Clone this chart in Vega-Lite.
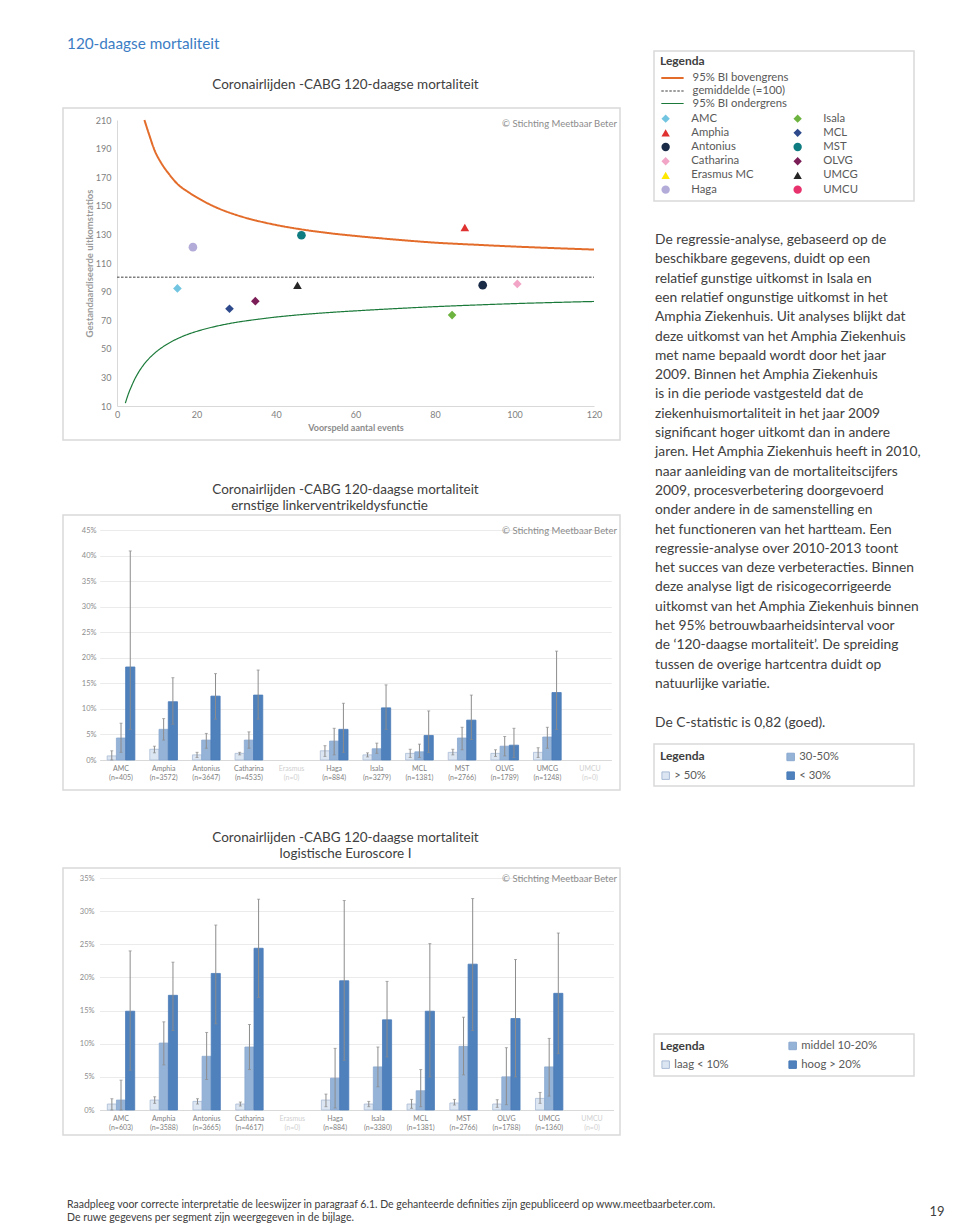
{
  "$schema": "https://vega.github.io/schema/vega-lite/v6.json",
  "width": 960,
  "height": 1226,
  "autosize": {"type": "none"},
  "padding": 0,
  "background": "#ffffff",
  "config": {
    "view": {"stroke": null},
    "font": "Lato",
    "axis": {"labelFont": "Lato", "titleFont": "Lato"},
    "legend": {"labelFont": "Lato", "titleFont": "Lato"}
  },
  "datasets": {
    "funnel_lijnen": [
      {"lijn": "95% BI bovengrens", "verwacht": 6.9, "ratio": 210},
      {"lijn": "95% BI bovengrens", "verwacht": 8, "ratio": 200.5},
      {"lijn": "95% BI bovengrens", "verwacht": 9.5, "ratio": 188.5},
      {"lijn": "95% BI bovengrens", "verwacht": 11, "ratio": 180.5},
      {"lijn": "95% BI bovengrens", "verwacht": 13, "ratio": 172.5},
      {"lijn": "95% BI bovengrens", "verwacht": 15.3, "ratio": 165},
      {"lijn": "95% BI bovengrens", "verwacht": 18, "ratio": 159.5},
      {"lijn": "95% BI bovengrens", "verwacht": 20.3, "ratio": 155.5},
      {"lijn": "95% BI bovengrens", "verwacht": 25, "ratio": 148.8},
      {"lijn": "95% BI bovengrens", "verwacht": 30, "ratio": 143.6},
      {"lijn": "95% BI bovengrens", "verwacht": 35, "ratio": 139.7},
      {"lijn": "95% BI bovengrens", "verwacht": 40, "ratio": 136.6},
      {"lijn": "95% BI bovengrens", "verwacht": 46.4, "ratio": 133.5},
      {"lijn": "95% BI bovengrens", "verwacht": 53, "ratio": 131},
      {"lijn": "95% BI bovengrens", "verwacht": 60.4, "ratio": 128.8},
      {"lijn": "95% BI bovengrens", "verwacht": 70, "ratio": 126.4},
      {"lijn": "95% BI bovengrens", "verwacht": 80.2, "ratio": 124.2},
      {"lijn": "95% BI bovengrens", "verwacht": 90, "ratio": 122.8},
      {"lijn": "95% BI bovengrens", "verwacht": 100, "ratio": 121.5},
      {"lijn": "95% BI bovengrens", "verwacht": 110, "ratio": 120.4},
      {"lijn": "95% BI bovengrens", "verwacht": 120, "ratio": 119.4},
      {"lijn": "gemiddelde (=100)", "verwacht": 0, "ratio": 100},
      {"lijn": "gemiddelde (=100)", "verwacht": 120, "ratio": 100},
      {"lijn": "95% BI ondergrens", "verwacht": 2.1, "ratio": 12},
      {"lijn": "95% BI ondergrens", "verwacht": 3, "ratio": 19.5},
      {"lijn": "95% BI ondergrens", "verwacht": 3.6, "ratio": 23.5},
      {"lijn": "95% BI ondergrens", "verwacht": 4.5, "ratio": 29},
      {"lijn": "95% BI ondergrens", "verwacht": 5.3, "ratio": 33},
      {"lijn": "95% BI ondergrens", "verwacht": 6.3, "ratio": 37.3},
      {"lijn": "95% BI ondergrens", "verwacht": 7.5, "ratio": 41.5},
      {"lijn": "95% BI ondergrens", "verwacht": 9.5, "ratio": 47},
      {"lijn": "95% BI ondergrens", "verwacht": 12, "ratio": 52.2},
      {"lijn": "95% BI ondergrens", "verwacht": 15.3, "ratio": 57.2},
      {"lijn": "95% BI ondergrens", "verwacht": 18, "ratio": 60.3},
      {"lijn": "95% BI ondergrens", "verwacht": 20.3, "ratio": 62.4},
      {"lijn": "95% BI ondergrens", "verwacht": 25, "ratio": 65.8},
      {"lijn": "95% BI ondergrens", "verwacht": 30, "ratio": 68.5},
      {"lijn": "95% BI ondergrens", "verwacht": 35, "ratio": 70.5},
      {"lijn": "95% BI ondergrens", "verwacht": 40, "ratio": 72.2},
      {"lijn": "95% BI ondergrens", "verwacht": 46.4, "ratio": 73.9},
      {"lijn": "95% BI ondergrens", "verwacht": 53, "ratio": 75.3},
      {"lijn": "95% BI ondergrens", "verwacht": 60.4, "ratio": 76.6},
      {"lijn": "95% BI ondergrens", "verwacht": 70, "ratio": 78.1},
      {"lijn": "95% BI ondergrens", "verwacht": 80.2, "ratio": 79.5},
      {"lijn": "95% BI ondergrens", "verwacht": 90, "ratio": 80.6},
      {"lijn": "95% BI ondergrens", "verwacht": 100, "ratio": 81.6},
      {"lijn": "95% BI ondergrens", "verwacht": 110, "ratio": 82.4},
      {"lijn": "95% BI ondergrens", "verwacht": 120, "ratio": 83.1}
    ],
    "funnel_punten": [
      {"ziekenhuis": "AMC", "verwacht": 15.2, "ratio": 92.2},
      {"ziekenhuis": "Haga", "verwacht": 19.1, "ratio": 121.1},
      {"ziekenhuis": "MCL", "verwacht": 28.3, "ratio": 78.0},
      {"ziekenhuis": "OLVG", "verwacht": 34.8, "ratio": 83.3},
      {"ziekenhuis": "UMCG", "verwacht": 45.4, "ratio": 94.5},
      {"ziekenhuis": "MST", "verwacht": 46.4, "ratio": 129.4},
      {"ziekenhuis": "Isala", "verwacht": 84.3, "ratio": 73.6},
      {"ziekenhuis": "Amphia", "verwacht": 87.5, "ratio": 134.8},
      {"ziekenhuis": "Antonius", "verwacht": 92.0, "ratio": 94.5},
      {"ziekenhuis": "Catharina", "verwacht": 100.7, "ratio": 95.4}
    ],
    "lvef": [
      {"ziekenhuis": "AMC (n=405)", "risico": "> 50%", "mort": 0.008, "laag": 0.0, "hoog": 0.018},
      {"ziekenhuis": "AMC (n=405)", "risico": "30-50%", "mort": 0.043, "laag": 0.015, "hoog": 0.072},
      {"ziekenhuis": "AMC (n=405)", "risico": "< 30%", "mort": 0.182, "laag": 0.06, "hoog": 0.409},
      {"ziekenhuis": "Amphia (n=3572)", "risico": "> 50%", "mort": 0.021, "laag": 0.014, "hoog": 0.027},
      {"ziekenhuis": "Amphia (n=3572)", "risico": "30-50%", "mort": 0.060, "laag": 0.039, "hoog": 0.081},
      {"ziekenhuis": "Amphia (n=3572)", "risico": "< 30%", "mort": 0.114, "laag": 0.07, "hoog": 0.161},
      {"ziekenhuis": "Antonius (n=3647)", "risico": "> 50%", "mort": 0.010, "laag": 0.005, "hoog": 0.015},
      {"ziekenhuis": "Antonius (n=3647)", "risico": "30-50%", "mort": 0.039, "laag": 0.023, "hoog": 0.052},
      {"ziekenhuis": "Antonius (n=3647)", "risico": "< 30%", "mort": 0.125, "laag": 0.08, "hoog": 0.169},
      {"ziekenhuis": "Catharina (n=4535)", "risico": "> 50%", "mort": 0.013, "laag": 0.010, "hoog": 0.015},
      {"ziekenhuis": "Catharina (n=4535)", "risico": "30-50%", "mort": 0.039, "laag": 0.023, "hoog": 0.055},
      {"ziekenhuis": "Catharina (n=4535)", "risico": "< 30%", "mort": 0.127, "laag": 0.08, "hoog": 0.176},
      {"ziekenhuis": "Haga (n=884)", "risico": "> 50%", "mort": 0.018, "laag": 0.007, "hoog": 0.028},
      {"ziekenhuis": "Haga (n=884)", "risico": "30-50%", "mort": 0.037, "laag": 0.010, "hoog": 0.062},
      {"ziekenhuis": "Haga (n=884)", "risico": "< 30%", "mort": 0.060, "laag": 0.015, "hoog": 0.111},
      {"ziekenhuis": "Isala (n=3279)", "risico": "> 50%", "mort": 0.010, "laag": 0.006, "hoog": 0.014},
      {"ziekenhuis": "Isala (n=3279)", "risico": "30-50%", "mort": 0.022, "laag": 0.013, "hoog": 0.033},
      {"ziekenhuis": "Isala (n=3279)", "risico": "< 30%", "mort": 0.102, "laag": 0.06, "hoog": 0.147},
      {"ziekenhuis": "MCL (n=1381)", "risico": "> 50%", "mort": 0.013, "laag": 0.005, "hoog": 0.021},
      {"ziekenhuis": "MCL (n=1381)", "risico": "30-50%", "mort": 0.016, "laag": 0.005, "hoog": 0.031},
      {"ziekenhuis": "MCL (n=1381)", "risico": "< 30%", "mort": 0.048, "laag": 0.015, "hoog": 0.096},
      {"ziekenhuis": "MST (n=2766)", "risico": "> 50%", "mort": 0.015, "laag": 0.010, "hoog": 0.021},
      {"ziekenhuis": "MST (n=2766)", "risico": "30-50%", "mort": 0.043, "laag": 0.020, "hoog": 0.064},
      {"ziekenhuis": "MST (n=2766)", "risico": "< 30%", "mort": 0.078, "laag": 0.04, "hoog": 0.127},
      {"ziekenhuis": "OLVG (n=1789)", "risico": "> 50%", "mort": 0.013, "laag": 0.007, "hoog": 0.020},
      {"ziekenhuis": "OLVG (n=1789)", "risico": "30-50%", "mort": 0.027, "laag": 0.008, "hoog": 0.046},
      {"ziekenhuis": "OLVG (n=1789)", "risico": "< 30%", "mort": 0.029, "laag": 0.005, "hoog": 0.062},
      {"ziekenhuis": "UMCG (n=1248)", "risico": "> 50%", "mort": 0.015, "laag": 0.005, "hoog": 0.024},
      {"ziekenhuis": "UMCG (n=1248)", "risico": "30-50%", "mort": 0.045, "laag": 0.023, "hoog": 0.064},
      {"ziekenhuis": "UMCG (n=1248)", "risico": "< 30%", "mort": 0.132, "laag": 0.06, "hoog": 0.213}
    ],
    "euroscore": [
      {"ziekenhuis": "AMC (n=603)", "risico": "laag < 10%", "mort": 0.009, "laag": 0.0, "hoog": 0.017},
      {"ziekenhuis": "AMC (n=603)", "risico": "middel 10-20%", "mort": 0.015, "laag": 0.0, "hoog": 0.045},
      {"ziekenhuis": "AMC (n=603)", "risico": "hoog > 20%", "mort": 0.149, "laag": 0.06, "hoog": 0.240},
      {"ziekenhuis": "Amphia (n=3588)", "risico": "laag < 10%", "mort": 0.015, "laag": 0.010, "hoog": 0.020},
      {"ziekenhuis": "Amphia (n=3588)", "risico": "middel 10-20%", "mort": 0.101, "laag": 0.068, "hoog": 0.133},
      {"ziekenhuis": "Amphia (n=3588)", "risico": "hoog > 20%", "mort": 0.173, "laag": 0.12, "hoog": 0.223},
      {"ziekenhuis": "Antonius (n=3665)", "risico": "laag < 10%", "mort": 0.013, "laag": 0.009, "hoog": 0.017},
      {"ziekenhuis": "Antonius (n=3665)", "risico": "middel 10-20%", "mort": 0.081, "laag": 0.046, "hoog": 0.117},
      {"ziekenhuis": "Antonius (n=3665)", "risico": "hoog > 20%", "mort": 0.206, "laag": 0.13, "hoog": 0.279},
      {"ziekenhuis": "Catharina (n=4617)", "risico": "laag < 10%", "mort": 0.009, "laag": 0.006, "hoog": 0.012},
      {"ziekenhuis": "Catharina (n=4617)", "risico": "middel 10-20%", "mort": 0.095, "laag": 0.061, "hoog": 0.129},
      {"ziekenhuis": "Catharina (n=4617)", "risico": "hoog > 20%", "mort": 0.244, "laag": 0.17, "hoog": 0.318},
      {"ziekenhuis": "Haga (n=884)", "risico": "laag < 10%", "mort": 0.015, "laag": 0.005, "hoog": 0.024},
      {"ziekenhuis": "Haga (n=884)", "risico": "middel 10-20%", "mort": 0.048, "laag": 0.003, "hoog": 0.093},
      {"ziekenhuis": "Haga (n=884)", "risico": "hoog > 20%", "mort": 0.195, "laag": 0.075, "hoog": 0.316},
      {"ziekenhuis": "Isala (n=3380)", "risico": "laag < 10%", "mort": 0.009, "laag": 0.005, "hoog": 0.013},
      {"ziekenhuis": "Isala (n=3380)", "risico": "middel 10-20%", "mort": 0.065, "laag": 0.035, "hoog": 0.095},
      {"ziekenhuis": "Isala (n=3380)", "risico": "hoog > 20%", "mort": 0.136, "laag": 0.08, "hoog": 0.194},
      {"ziekenhuis": "MCL (n=1381)", "risico": "laag < 10%", "mort": 0.009, "laag": 0.0025, "hoog": 0.016},
      {"ziekenhuis": "MCL (n=1381)", "risico": "middel 10-20%", "mort": 0.029, "laag": 0.005, "hoog": 0.061},
      {"ziekenhuis": "MCL (n=1381)", "risico": "hoog > 20%", "mort": 0.149, "laag": 0.05, "hoog": 0.251},
      {"ziekenhuis": "MST (n=2766)", "risico": "laag < 10%", "mort": 0.0105, "laag": 0.0075, "hoog": 0.016},
      {"ziekenhuis": "MST (n=2766)", "risico": "middel 10-20%", "mort": 0.096, "laag": 0.053, "hoog": 0.140},
      {"ziekenhuis": "MST (n=2766)", "risico": "hoog > 20%", "mort": 0.220, "laag": 0.12, "hoog": 0.319},
      {"ziekenhuis": "OLVG (n=1788)", "risico": "laag < 10%", "mort": 0.009, "laag": 0.004, "hoog": 0.0155},
      {"ziekenhuis": "OLVG (n=1788)", "risico": "middel 10-20%", "mort": 0.050, "laag": 0.008, "hoog": 0.094},
      {"ziekenhuis": "OLVG (n=1788)", "risico": "hoog > 20%", "mort": 0.138, "laag": 0.05, "hoog": 0.227},
      {"ziekenhuis": "UMCG (n=1360)", "risico": "laag < 10%", "mort": 0.0175, "laag": 0.010, "hoog": 0.0265},
      {"ziekenhuis": "UMCG (n=1360)", "risico": "middel 10-20%", "mort": 0.065, "laag": 0.021, "hoog": 0.108},
      {"ziekenhuis": "UMCG (n=1360)", "risico": "hoog > 20%", "mort": 0.176, "laag": 0.085, "hoog": 0.267}
    ],
    "toelichting": [
      {"regel": 1, "tekst": "De regressie-analyse, gebaseerd op de"},
      {"regel": 2, "tekst": "beschikbare gegevens, duidt op een"},
      {"regel": 3, "tekst": "relatief gunstige uitkomst in Isala en"},
      {"regel": 4, "tekst": "een relatief ongunstige uitkomst in het"},
      {"regel": 5, "tekst": "Amphia Ziekenhuis. Uit analyses blijkt dat"},
      {"regel": 6, "tekst": "deze uitkomst van het Amphia Ziekenhuis"},
      {"regel": 7, "tekst": "met name bepaald wordt door het jaar"},
      {"regel": 8, "tekst": "2009. Binnen het Amphia Ziekenhuis"},
      {"regel": 9, "tekst": "is in die periode vastgesteld dat de"},
      {"regel": 10, "tekst": "ziekenhuismortaliteit in het jaar 2009"},
      {"regel": 11, "tekst": "significant hoger uitkomt dan in andere"},
      {"regel": 12, "tekst": "jaren. Het Amphia Ziekenhuis heeft in 2010,"},
      {"regel": 13, "tekst": "naar aanleiding van de mortaliteitscijfers"},
      {"regel": 14, "tekst": "2009, procesverbetering doorgevoerd"},
      {"regel": 15, "tekst": "onder andere in de samenstelling en"},
      {"regel": 16, "tekst": "het functioneren van het hartteam. Een"},
      {"regel": 17, "tekst": "regressie-analyse over 2010-2013 toont"},
      {"regel": 18, "tekst": "het succes van deze verbeteracties. Binnen"},
      {"regel": 19, "tekst": "deze analyse ligt de risicogecorrigeerde"},
      {"regel": 20, "tekst": "uitkomst van het Amphia Ziekenhuis binnen"},
      {"regel": 21, "tekst": "het 95% betrouwbaarheidsinterval voor"},
      {"regel": 22, "tekst": "de ‘120-daagse mortaliteit’. De spreiding"},
      {"regel": 23, "tekst": "tussen de overige hartcentra duidt op"},
      {"regel": 24, "tekst": "natuurlijke variatie."},
      {"regel": 26, "tekst": "De C-statistic is 0,82 (goed)."}
    ],
    "voettekst": [
      {"regel": 1, "tekst": "Raadpleeg voor correcte interpretatie de leeswijzer in paragraaf 6.1. De gehanteerde definities zijn gepubliceerd op www.meetbaarbeter.com."},
      {"regel": 2, "tekst": "De ruwe gegevens per segment zijn weergegeven in de bijlage."}
    ]
  },
  "resolve": {
    "scale": {"x": "independent", "y": "independent", "fill": "independent", "stroke": "independent", "shape": "independent", "strokeDash": "independent", "strokeWidth": "independent", "xOffset": "independent"},
    "axis": {"x": "independent", "y": "independent"},
    "legend": {"fill": "independent", "stroke": "independent", "shape": "independent", "strokeDash": "independent", "strokeWidth": "independent"}
  },
  "layer": [
    {
      "data": {"values": [{"blok": "pagina"}]},
      "layer": [
        {
          "mark": {"type": "text", "align": "left", "baseline": "middle", "fontSize": 15.3, "color": "#3b7dc4"},
          "encoding": {
            "x": {"datum": 0.0698, "type": "quantitative", "scale": {"domain": [0, 1], "range": [0, 960], "nice": false, "zero": false}, "axis": null},
            "y": {"datum": 0.0359, "type": "quantitative", "scale": {"domain": [0, 1], "range": [0, 1226], "nice": false, "zero": false}, "axis": null},
            "text": {"value": "120-daagse mortaliteit"}
          }
        },
        {
          "mark": {"type": "text", "align": "center", "baseline": "middle", "fontSize": 13, "color": "#404040"},
          "encoding": {
            "x": {"datum": 0.976, "type": "quantitative", "axis": null},
            "y": {"datum": 0.9886, "type": "quantitative", "axis": null},
            "text": {"value": "19"}
          }
        }
      ]
    },
    {
      "data": {"name": "voettekst"},
      "mark": {"type": "text", "align": "left", "baseline": "middle", "fontSize": 10.5, "color": "#404040"},
      "encoding": {
        "x": {"datum": 0, "type": "quantitative", "scale": {"domain": [0, 1], "range": [67, 960], "nice": false, "zero": false}, "axis": null},
        "y": {"field": "regel", "type": "quantitative", "scale": {"domain": [1, 2], "range": [1205, 1218], "nice": false, "zero": false}, "axis": null},
        "text": {"field": "tekst"}
      }
    },
    {
      "data": {"name": "toelichting"},
      "mark": {"type": "text", "align": "left", "baseline": "middle", "fontSize": 13.8, "color": "#404040"},
      "encoding": {
        "x": {"datum": 0, "type": "quantitative", "scale": {"domain": [0, 1], "range": [655, 915], "nice": false, "zero": false}, "axis": null},
        "y": {"field": "regel", "type": "quantitative", "scale": {"domain": [1, 26], "range": [240, 722.5], "nice": false, "zero": false}, "axis": null},
        "text": {"field": "tekst"}
      }
    },
    {
      "data": {"values": [{"kader": "legenda 1"}]},
      "mark": {"type": "rect", "fill": "transparent", "stroke": "#d9d9d9", "strokeWidth": 1.5},
      "encoding": {
        "x": {"datum": 0, "type": "quantitative", "scale": {"domain": [0, 1], "range": [654, 914], "nice": false, "zero": false}, "axis": null},
        "x2": {"datum": 1},
        "y": {"datum": 0, "type": "quantitative", "scale": {"domain": [0, 1], "range": [51, 201], "nice": false, "zero": false}, "axis": null},
        "y2": {"datum": 1}
      }
    },
    {
      "data": {"values": [{"kader": "legenda 2"}]},
      "layer": [
        {
          "mark": {"type": "rect", "fill": "transparent", "stroke": "#d9d9d9", "strokeWidth": 1.5},
          "encoding": {
            "x": {"datum": 0, "type": "quantitative", "scale": {"domain": [0, 1], "range": [654, 914], "nice": false, "zero": false}, "axis": null},
            "x2": {"datum": 1},
            "y": {"datum": 0, "type": "quantitative", "scale": {"domain": [0, 1], "range": [744, 786], "nice": false, "zero": false}, "axis": null},
            "y2": {"datum": 1}
          }
        },
        {
          "mark": {"type": "text", "align": "left", "baseline": "middle", "fontSize": 12, "fontWeight": "bold", "color": "#404040"},
          "encoding": {
            "x": {"datum": 0.023, "type": "quantitative", "axis": null},
            "y": {"datum": 0.286, "type": "quantitative", "axis": null},
            "text": {"value": "Legenda"}
          }
        }
      ]
    },
    {
      "data": {"values": [{"kader": "legenda 3"}]},
      "layer": [
        {
          "mark": {"type": "rect", "fill": "transparent", "stroke": "#d9d9d9", "strokeWidth": 1.5},
          "encoding": {
            "x": {"datum": 0, "type": "quantitative", "scale": {"domain": [0, 1], "range": [654, 914], "nice": false, "zero": false}, "axis": null},
            "x2": {"datum": 1},
            "y": {"datum": 0, "type": "quantitative", "scale": {"domain": [0, 1], "range": [1034, 1076], "nice": false, "zero": false}, "axis": null},
            "y2": {"datum": 1}
          }
        },
        {
          "mark": {"type": "text", "align": "left", "baseline": "middle", "fontSize": 12, "fontWeight": "bold", "color": "#404040"},
          "encoding": {
            "x": {"datum": 0.023, "type": "quantitative", "axis": null},
            "y": {"datum": 0.286, "type": "quantitative", "axis": null},
            "text": {"value": "Legenda"}
          }
        }
      ]
    },
    {
      "data": {"values": [{"kader": "grafiek 1"}]},
      "layer": [
        {
          "mark": {"type": "rect", "fill": "transparent", "stroke": "#d9d9d9", "strokeWidth": 1.5},
          "encoding": {
            "x": {"datum": 0, "type": "quantitative", "scale": {"domain": [0, 1], "range": [63, 620], "nice": false, "zero": false}, "axis": null},
            "x2": {"datum": 1},
            "y": {"datum": 0, "type": "quantitative", "scale": {"domain": [0, 1], "range": [108, 440], "nice": false, "zero": false}, "axis": null},
            "y2": {"datum": 1}
          }
        },
        {
          "mark": {"type": "text", "align": "center", "baseline": "middle", "fontSize": 13.5, "color": "#404040"},
          "encoding": {
            "x": {"datum": 0.5072, "type": "quantitative", "axis": null},
            "y": {"datum": -0.0693, "type": "quantitative", "axis": null},
            "text": {"value": "Coronairlijden -CABG 120-daagse mortaliteit"}
          }
        },
        {
          "mark": {"type": "text", "align": "right", "baseline": "middle", "fontSize": 9.5, "color": "#8c8c8c"},
          "encoding": {
            "x": {"datum": 0.9946, "type": "quantitative", "axis": null},
            "y": {"datum": 0.0482, "type": "quantitative", "axis": null},
            "text": {"value": "© Stichting Meetbaar Beter"}
          }
        }
      ]
    },
    {
      "data": {"values": [{"kader": "grafiek 2"}]},
      "layer": [
        {
          "mark": {"type": "rect", "fill": "transparent", "stroke": "#d9d9d9", "strokeWidth": 1.5},
          "encoding": {
            "x": {"datum": 0, "type": "quantitative", "scale": {"domain": [0, 1], "range": [63, 620], "nice": false, "zero": false}, "axis": null},
            "x2": {"datum": 1},
            "y": {"datum": 0, "type": "quantitative", "scale": {"domain": [0, 1], "range": [515, 790], "nice": false, "zero": false}, "axis": null},
            "y2": {"datum": 1}
          }
        },
        {
          "mark": {"type": "text", "align": "center", "baseline": "middle", "fontSize": 13.5, "color": "#404040"},
          "encoding": {
            "x": {"datum": 0.5072, "type": "quantitative", "axis": null},
            "y": {"datum": -0.0927, "type": "quantitative", "axis": null},
            "text": {"value": "Coronairlijden -CABG 120-daagse mortaliteit"}
          }
        },
        {
          "mark": {"type": "text", "align": "center", "baseline": "middle", "fontSize": 13.5, "color": "#404040"},
          "encoding": {
            "x": {"datum": 0.4785, "type": "quantitative", "axis": null},
            "y": {"datum": -0.0345, "type": "quantitative", "axis": null},
            "text": {"value": "ernstige linkerventrikeldysfunctie"}
          }
        },
        {
          "mark": {"type": "text", "align": "right", "baseline": "middle", "fontSize": 9.5, "color": "#8c8c8c"},
          "encoding": {
            "x": {"datum": 0.9946, "type": "quantitative", "axis": null},
            "y": {"datum": 0.0582, "type": "quantitative", "axis": null},
            "text": {"value": "© Stichting Meetbaar Beter"}
          }
        }
      ]
    },
    {
      "data": {"values": [{"kader": "grafiek 3"}]},
      "layer": [
        {
          "mark": {"type": "rect", "fill": "transparent", "stroke": "#d9d9d9", "strokeWidth": 1.5},
          "encoding": {
            "x": {"datum": 0, "type": "quantitative", "scale": {"domain": [0, 1], "range": [63, 620], "nice": false, "zero": false}, "axis": null},
            "x2": {"datum": 1},
            "y": {"datum": 0, "type": "quantitative", "scale": {"domain": [0, 1], "range": [868, 1135], "nice": false, "zero": false}, "axis": null},
            "y2": {"datum": 1}
          }
        },
        {
          "mark": {"type": "text", "align": "center", "baseline": "middle", "fontSize": 13.5, "color": "#404040"},
          "encoding": {
            "x": {"datum": 0.5072, "type": "quantitative", "axis": null},
            "y": {"datum": -0.1124, "type": "quantitative", "axis": null},
            "text": {"value": "Coronairlijden -CABG 120-daagse mortaliteit"}
          }
        },
        {
          "mark": {"type": "text", "align": "center", "baseline": "middle", "fontSize": 13.5, "color": "#404040"},
          "encoding": {
            "x": {"datum": 0.5072, "type": "quantitative", "axis": null},
            "y": {"datum": -0.0524, "type": "quantitative", "axis": null},
            "text": {"value": "logistische Euroscore I"}
          }
        },
        {
          "mark": {"type": "text", "align": "right", "baseline": "middle", "fontSize": 9.5, "color": "#8c8c8c"},
          "encoding": {
            "x": {"datum": 0.9946, "type": "quantitative", "axis": null},
            "y": {"datum": 0.0412, "type": "quantitative", "axis": null},
            "text": {"value": "© Stichting Meetbaar Beter"}
          }
        }
      ]
    },
    {
      "layer": [
        {
          "data": {"name": "funnel_lijnen"},
          "mark": {"type": "line", "interpolate": "monotone"},
          "encoding": {
            "x": {
              "field": "verwacht", "type": "quantitative",
              "scale": {"domain": [0, 120], "range": [117, 594], "nice": false, "zero": false},
              "axis": {"orient": "bottom", "offset": -820, "values": [0, 20, 40, 60, 80, 100, 120], "grid": false, "ticks": false, "domainColor": "#d9d9d9", "labelFontSize": 9, "labelColor": "#7f7f7f", "labelPadding": 4, "labelFlush": false, "labelOverlap": false, "title": "Voorspeld aantal events", "titleFontSize": 9, "titleFontWeight": "bold", "titleColor": "#8c8c8c", "titlePadding": 4}
            },
            "y": {
              "field": "ratio", "type": "quantitative",
              "scale": {"domain": [10, 210], "range": [406, 120], "nice": false, "zero": false},
              "axis": {"orient": "left", "offset": -117, "values": [10, 30, 50, 70, 90, 110, 130, 150, 170, 190, 210], "grid": false, "ticks": false, "domainColor": "#d9d9d9", "labelFontSize": 9, "labelColor": "#7f7f7f", "labelPadding": 6, "labelFlush": false, "labelOverlap": false, "title": "Gestandaardiseerde uitkomstratios", "titleFontSize": 9.5, "titleFontWeight": "bold", "titleColor": "#9a9a9a", "titlePadding": 1}
            },
            "stroke": {
              "field": "lijn", "type": "nominal",
              "scale": {"domain": ["95% BI bovengrens", "gemiddelde (=100)", "95% BI ondergrens"], "range": ["#e36c2a", "#7f7f7f", "#1b7a3a"]},
              "legend": {"title": "Legenda", "orient": "none", "legendX": 660, "legendY": 56, "padding": 0, "titleFontSize": 12, "titleFontWeight": "bold", "titleColor": "#404040", "titlePadding": 2.5, "labelFontSize": 11.3, "labelColor": "#595959", "labelOffset": 17.6, "symbolSize": 154, "symbolType": "M-1,0H2.6", "rowPadding": 0}
            },
            "strokeDash": {
              "field": "lijn", "type": "nominal",
              "scale": {"domain": ["95% BI bovengrens", "gemiddelde (=100)", "95% BI ondergrens"], "range": [[1, 0], [2.5, 1.5], [1, 0]]},
              "legend": {"title": "Legenda", "orient": "none", "legendX": 660, "legendY": 56, "padding": 0, "titleFontSize": 12, "titleFontWeight": "bold", "titleColor": "#404040", "titlePadding": 2.5, "labelFontSize": 11.3, "labelColor": "#595959", "labelOffset": 17.6, "symbolSize": 154, "symbolType": "M-1,0H2.6", "rowPadding": 0}
            },
            "strokeWidth": {
              "field": "lijn", "type": "ordinal",
              "scale": {"domain": ["95% BI bovengrens", "gemiddelde (=100)", "95% BI ondergrens"], "range": [2, 1.2, 2]},
              "legend": {"title": "Legenda", "orient": "none", "legendX": 660, "legendY": 56, "padding": 0, "titleFontSize": 12, "titleFontWeight": "bold", "titleColor": "#404040", "titlePadding": 2.5, "labelFontSize": 11.3, "labelColor": "#595959", "labelOffset": 17.6, "symbolSize": 154, "symbolType": "M-1,0H2.6", "rowPadding": 0}
            }
          }
        },
        {
          "data": {"name": "funnel_punten"},
          "mark": {"type": "point", "filled": true, "opacity": 1, "size": 75, "strokeWidth": 0},
          "encoding": {
            "x": {"field": "verwacht", "type": "quantitative"},
            "y": {"field": "ratio", "type": "quantitative"},
            "fill": {
              "field": "ziekenhuis", "type": "nominal",
              "scale": {"domain": ["AMC", "Amphia", "Antonius", "Catharina", "Erasmus MC", "Haga", "Isala", "MCL", "MST", "OLVG", "UMCG", "UMCU"], "range": ["#72c5e0", "#e03131", "#1a2b48", "#f2a5c6", "#ffe800", "#b3acd9", "#6db33f", "#2e4a8c", "#0e7c80", "#7b1d56", "#262626", "#e8326d"]},
              "legend": {"title": null, "orient": "none", "legendX": 660, "legendY": 113, "columns": 2, "columnPadding": 38, "rowPadding": 2.2, "padding": 0, "labelFontSize": 11.3, "labelColor": "#595959", "labelOffset": 20, "symbolSize": 70, "symbolStrokeWidth": 0}
            },
            "shape": {
              "field": "ziekenhuis", "type": "nominal",
              "scale": {"domain": ["AMC", "Amphia", "Antonius", "Catharina", "Erasmus MC", "Haga", "Isala", "MCL", "MST", "OLVG", "UMCG", "UMCU"], "range": ["diamond", "triangle-up", "circle", "diamond", "triangle-up", "circle", "diamond", "diamond", "circle", "diamond", "triangle-up", "circle"]},
              "legend": {"title": null, "orient": "none", "legendX": 660, "legendY": 113, "columns": 2, "columnPadding": 38, "rowPadding": 2.2, "padding": 0, "labelFontSize": 11.3, "labelColor": "#595959", "labelOffset": 20, "symbolSize": 70, "symbolStrokeWidth": 0}
            }
          }
        }
      ]
    },
    {
      "data": {"name": "lvef"},
      "layer": [
        {
          "mark": {"type": "bar", "strokeWidth": 0.8},
          "encoding": {
            "x": {
              "field": "ziekenhuis", "type": "nominal",
              "scale": {"domain": ["AMC (n=405)", "Amphia (n=3572)", "Antonius (n=3647)", "Catharina (n=4535)", "Erasmus (n=0)", "Haga (n=884)", "Isala (n=3279)", "MCL (n=1381)", "MST (n=2766)", "OLVG (n=1789)", "UMCG (n=1248)", "UMCU (n=0)"], "range": [99.7, 611.3], "paddingInner": 0.35, "paddingOuter": 0.175},
              "axis": {"orient": "bottom", "offset": -466, "title": null, "domainColor": "#d9d9d9", "ticks": false, "labelAngle": 0, "labelExpr": "split(datum.value, ' ')", "labelFontSize": 7, "labelLineHeight": 9, "labelPadding": 4, "labelColor": {"condition": {"test": "indexof(datum.value, 'n=0') >= 0", "value": "#d0d0d0"}, "value": "#808080"}}
            },
            "xOffset": {"field": "risico", "type": "nominal", "scale": {"domain": ["> 50%", "30-50%", "< 30%"], "paddingInner": 0, "paddingOuter": 0}},
            "y": {
              "field": "mort", "type": "quantitative",
              "scale": {"domain": [0, 0.45], "range": [760, 530], "nice": false},
              "axis": {"orient": "left", "offset": -100, "values": [0, 0.05, 0.1, 0.15, 0.2, 0.25, 0.3, 0.35, 0.4, 0.45], "format": ".0%", "grid": true, "gridColor": "#ebebeb", "domain": false, "ticks": false, "labelFontSize": 7.5, "labelColor": "#8c8c8c", "labelPadding": 4, "title": null}
            },
            "fill": {
              "field": "risico", "type": "nominal",
              "scale": {"domain": ["Legenda", "> 50%", "30-50%", "< 30%"], "range": ["transparent", "#dce6f2", "#95b3d7", "#4f81bd"]},
              "legend": {"title": null, "orient": "none", "legendX": 660, "legendY": 751, "columns": 2, "columnPadding": 78, "rowPadding": 6, "padding": 0, "symbolType": "square", "symbolSize": 56, "symbolStrokeWidth": 1, "labelFontSize": 11.3, "labelColor": "#595959", "labelOffset": 3, "labelExpr": "datum.value == 'Legenda' ? '' : datum.value"}
            },
            "stroke": {
              "field": "risico", "type": "nominal",
              "scale": {"domain": ["Legenda", "> 50%", "30-50%", "< 30%"], "range": ["transparent", "#a9bbd6", "#8aa8cf", "#4a7bb8"]},
              "legend": {"title": null, "orient": "none", "legendX": 660, "legendY": 751, "columns": 2, "columnPadding": 78, "rowPadding": 6, "padding": 0, "symbolType": "square", "symbolSize": 56, "symbolStrokeWidth": 1, "labelFontSize": 11.3, "labelColor": "#595959", "labelOffset": 3, "labelExpr": "datum.value == 'Legenda' ? '' : datum.value"}
            }
          }
        },
        {
          "mark": {"type": "rule", "color": "#8c8c8c", "strokeWidth": 1},
          "encoding": {
            "x": {"field": "ziekenhuis", "type": "nominal"},
            "xOffset": {"field": "risico", "type": "nominal"},
            "y": {"field": "laag", "type": "quantitative"},
            "y2": {"field": "hoog"}
          }
        },
        {
          "mark": {"type": "tick", "color": "#8c8c8c", "thickness": 1, "size": 3},
          "encoding": {
            "x": {"field": "ziekenhuis", "type": "nominal"},
            "xOffset": {"field": "risico", "type": "nominal"},
            "y": {"field": "hoog", "type": "quantitative"}
          }
        },
        {
          "mark": {"type": "tick", "color": "#8c8c8c", "thickness": 1, "size": 3},
          "encoding": {
            "x": {"field": "ziekenhuis", "type": "nominal"},
            "xOffset": {"field": "risico", "type": "nominal"},
            "y": {"field": "laag", "type": "quantitative"}
          }
        }
      ]
    },
    {
      "data": {"name": "euroscore"},
      "layer": [
        {
          "mark": {"type": "bar", "strokeWidth": 0.8},
          "encoding": {
            "x": {
              "field": "ziekenhuis", "type": "nominal",
              "scale": {"domain": ["AMC (n=603)", "Amphia (n=3588)", "Antonius (n=3665)", "Catharina (n=4617)", "Erasmus (n=0)", "Haga (n=884)", "Isala (n=3380)", "MCL (n=1381)", "MST (n=2766)", "OLVG (n=1788)", "UMCG (n=1360)", "UMCU (n=0)"], "range": [99.6, 613.4], "paddingInner": 0.36, "paddingOuter": 0.18},
              "axis": {"orient": "bottom", "offset": -116, "title": null, "domainColor": "#d9d9d9", "ticks": false, "labelAngle": 0, "labelExpr": "split(datum.value, ' ')", "labelFontSize": 7, "labelLineHeight": 9, "labelPadding": 4, "labelColor": {"condition": {"test": "indexof(datum.value, 'n=0') >= 0", "value": "#d0d0d0"}, "value": "#808080"}}
            },
            "xOffset": {"field": "risico", "type": "nominal", "scale": {"domain": ["laag < 10%", "middel 10-20%", "hoog > 20%"], "paddingInner": 0, "paddingOuter": 0}},
            "y": {
              "field": "mort", "type": "quantitative",
              "scale": {"domain": [0, 0.35], "range": [1110, 878], "nice": false},
              "axis": {"orient": "left", "offset": -98, "values": [0, 0.05, 0.1, 0.15, 0.2, 0.25, 0.3, 0.35], "format": ".0%", "grid": true, "gridColor": "#ebebeb", "domain": false, "ticks": false, "labelFontSize": 7.5, "labelColor": "#8c8c8c", "labelPadding": 4, "title": null}
            },
            "fill": {
              "field": "risico", "type": "nominal",
              "scale": {"domain": ["Legenda", "laag < 10%", "middel 10-20%", "hoog > 20%"], "range": ["transparent", "#dce6f2", "#95b3d7", "#4f81bd"]},
              "legend": {"title": null, "orient": "none", "legendX": 660, "legendY": 1040, "columns": 2, "columnPadding": 57, "rowPadding": 6, "padding": 0, "symbolType": "square", "symbolSize": 56, "symbolStrokeWidth": 1, "labelFontSize": 11.3, "labelColor": "#595959", "labelOffset": 3, "labelExpr": "datum.value == 'Legenda' ? '' : datum.value"}
            },
            "stroke": {
              "field": "risico", "type": "nominal",
              "scale": {"domain": ["Legenda", "laag < 10%", "middel 10-20%", "hoog > 20%"], "range": ["transparent", "#a9bbd6", "#8aa8cf", "#4a7bb8"]},
              "legend": {"title": null, "orient": "none", "legendX": 660, "legendY": 1040, "columns": 2, "columnPadding": 57, "rowPadding": 6, "padding": 0, "symbolType": "square", "symbolSize": 56, "symbolStrokeWidth": 1, "labelFontSize": 11.3, "labelColor": "#595959", "labelOffset": 3, "labelExpr": "datum.value == 'Legenda' ? '' : datum.value"}
            }
          }
        },
        {
          "mark": {"type": "rule", "color": "#8c8c8c", "strokeWidth": 1},
          "encoding": {
            "x": {"field": "ziekenhuis", "type": "nominal"},
            "xOffset": {"field": "risico", "type": "nominal"},
            "y": {"field": "laag", "type": "quantitative"},
            "y2": {"field": "hoog"}
          }
        },
        {
          "mark": {"type": "tick", "color": "#8c8c8c", "thickness": 1, "size": 3},
          "encoding": {
            "x": {"field": "ziekenhuis", "type": "nominal"},
            "xOffset": {"field": "risico", "type": "nominal"},
            "y": {"field": "hoog", "type": "quantitative"}
          }
        },
        {
          "mark": {"type": "tick", "color": "#8c8c8c", "thickness": 1, "size": 3},
          "encoding": {
            "x": {"field": "ziekenhuis", "type": "nominal"},
            "xOffset": {"field": "risico", "type": "nominal"},
            "y": {"field": "laag", "type": "quantitative"}
          }
        }
      ]
    }
  ]
}
